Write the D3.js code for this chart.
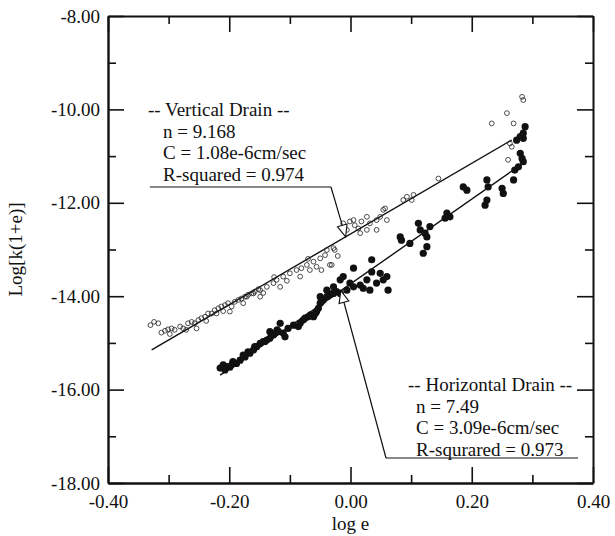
<!DOCTYPE html>
<html>
<head>
<meta charset="utf-8">
<script src="https://cdn.jsdelivr.net/npm/d3@7"></script>
<style>
  body { margin: 0; background: #fff; }
  text { font-family: "Liberation Serif", "Times New Roman", serif; fill: #111; }
</style>
</head>
<body>
<script>
// open circles - vertical drain (log e, log[k(1+e)])
var vertX = [-0.330,-0.324,-0.317,-0.312,-0.306,-0.301,-0.295,-0.290,-0.281,-0.276,-0.268,-0.262,-0.257,-0.251,-0.246,-0.240,-0.235,-0.229,-0.224,-0.218,-0.213,-0.207,-0.202,-0.196,-0.191,-0.185,-0.180,-0.174,-0.169,-0.163,-0.158,-0.152,-0.254,-0.221,-0.199,
  -0.171,-0.160,-0.149,-0.138,-0.127,-0.122,-0.111,-0.100,-0.089,-0.081,-0.072,-0.061,-0.050,-0.042,-0.034,-0.026,-0.048,-0.149,-0.116,-0.083,-0.056,-0.012,-0.001,0.007,0.018,0.027,-0.006,0.013,
  0.005,0.032,0.043,0.054,0.060,0.043,0.016,0.027,0.093,0.104,0.087,-0.039,-0.028,-0.031,
  0.101,0.057,0.049,0.145,0.283,0.285,0.258,0.233,0.269,0.266,0.263,0.260,
  -0.298,-0.271,-0.238,-0.210,-0.177,-0.144,-0.105,-0.067,-0.021,-0.126,-0.070];
var vertY = [-14.62,-14.55,-14.58,-14.78,-14.74,-14.71,-14.69,-14.72,-14.65,-14.69,-14.58,-14.55,-14.58,-14.51,-14.47,-14.44,-14.37,-14.37,-14.30,-14.26,-14.22,-14.19,-14.15,-14.22,-14.12,-14.08,-14.05,-14.01,-13.97,-13.94,-13.90,-13.85,-14.69,-14.37,-14.33,
  -14.01,-13.94,-13.87,-13.80,-13.72,-13.65,-13.58,-13.51,-13.44,-13.40,-13.33,-13.26,-13.19,-13.12,-13.33,-13.01,-13.44,-14.01,-13.80,-13.58,-13.37,-12.44,-12.40,-12.48,-12.40,-12.30,-12.58,-12.55,
  -12.37,-12.44,-12.37,-12.15,-12.37,-12.58,-12.65,-12.58,-11.87,-11.83,-11.94,-13.01,-12.97,-13.33,
  -11.94,-12.12,-12.30,-11.48,-9.73,-9.80,-10.08,-10.30,-10.30,-10.80,-10.73,-11.08,
  -14.81,-14.72,-14.53,-14.32,-14.15,-13.93,-13.67,-13.44,-13.14,-13.59,-13.20];

// filled dots - horizontal drain
var horzX = [-0.215,-0.210,-0.204,-0.196,-0.188,-0.182,-0.174,-0.169,-0.160,-0.155,-0.149,-0.141,-0.133,-0.133,-0.127,-0.119,-0.116,-0.111,-0.108,-0.103,-0.094,-0.086,-0.078,-0.070,-0.061,-0.056,-0.050,-0.045,-0.039,-0.034,-0.028,-0.023,
  -0.177,-0.194,-0.207,-0.199,-0.166,-0.158,-0.144,-0.138,-0.124,-0.121,-0.083,-0.075,-0.066,-0.058,-0.053,-0.048,-0.037,-0.031,
  -0.050,-0.039,-0.028,-0.017,-0.012,-0.001,0.005,0.016,0.021,0.027,0.035,0.049,0.054,0.060,0.062,0.005,0.035,0.082,0.084,0.098,0.112,0.115,0.123,0.120,0.126,0.043,0.032,-0.006,-0.017,
  0.159,0.164,0.186,0.192,0.225,0.227,0.225,0.222,0.250,0.252,0.269,0.271,0.277,0.285,0.280,0.283,0.274,0.280,0.285,0.285,0.288,0.131,0.156,0.126];
var horzY = [-15.54,-15.47,-15.51,-15.47,-15.44,-15.37,-15.30,-15.19,-15.15,-15.08,-15.01,-14.97,-14.90,-14.76,-14.83,-14.76,-14.58,-14.79,-14.87,-14.69,-14.62,-14.65,-14.51,-14.44,-14.44,-14.33,-14.15,-14.08,-14.01,-13.97,-13.94,-13.90,
  -15.26,-15.40,-15.58,-15.52,-15.22,-15.08,-14.97,-14.94,-14.79,-14.72,-14.58,-14.47,-14.40,-14.37,-14.26,-14.12,-14.00,-13.95,
  -14.01,-13.87,-13.80,-13.65,-13.58,-13.72,-13.80,-13.76,-13.83,-13.65,-13.48,-13.51,-13.65,-13.58,-13.87,-13.40,-13.22,-12.73,-12.80,-12.87,-12.44,-12.58,-12.65,-13.08,-12.94,-13.72,-13.87,-13.87,-13.94,
  -12.22,-12.30,-11.66,-11.73,-11.51,-11.66,-11.94,-12.05,-11.69,-11.80,-11.51,-11.30,-11.23,-11.12,-10.94,-11.05,-10.66,-10.58,-10.62,-10.51,-10.37,-12.51,-12.33,-12.73];

// fitted lines (end points)
var vertFitX = [-0.328, 0.266], vertFitY = [-15.15, -10.655];
var horzFitX = [-0.215, 0.288], horzFitY = [-15.69, -11.12];

var xMajor = [-0.4, -0.2, 0, 0.2, 0.4], xMinor = [-0.3, -0.1, 0.1, 0.3];
var yMajor = [-18, -16, -14, -12, -10, -8], yMinor = [-17, -15, -13, -11, -9];

var vertNote = ["-- Vertical Drain --", "n = 9.168", "C = 1.08e-6cm/sec", "R-squared = 0.974"];
var horzNote = ["-- Horizontal Drain --", "n = 7.49", "C = 3.09e-6cm/sec", "R-squrared = 0.973"];

var W = 615, H = 536;
var pL = 108, pR = 593, pT = 16, pB = 483;

var svg = d3.select("body").append("svg").attr("width", W).attr("height", H);

var x = d3.scaleLinear().domain([-0.4, 0.4]).range([pL, pR]);
var y = d3.scaleLinear().domain([-18, -8]).range([pB, pT]);

var fmt = function (d) { return d.toFixed(2); };
var fs = 19;

function styleAxis(g, sw) {
  g.selectAll("path.domain").attr("stroke", "#111").attr("stroke-width", sw);
  g.selectAll(".tick line").attr("stroke", "#111").attr("stroke-width", 1.6);
  g.selectAll("text").attr("font-size", fs).attr("font-family", "Liberation Serif").attr("fill", "#111");
}

// bottom
var gb = svg.append("g").attr("transform", "translate(0," + pB + ")")
  .call(d3.axisBottom(x).tickValues(xMajor).tickFormat(fmt).tickSizeInner(-16).tickSizeOuter(0).tickPadding(12));
styleAxis(gb, 2.4);
svg.append("g").attr("transform", "translate(0," + pB + ")")
  .call(d3.axisBottom(x).tickValues(xMinor).tickFormat("").tickSizeInner(-8).tickSizeOuter(0))
  .call(function (g) { g.select(".domain").remove(); styleAxis(g, 0); });

// top
var gt = svg.append("g").attr("transform", "translate(0," + pT + ")")
  .call(d3.axisTop(x).tickValues(xMajor).tickFormat("").tickSizeInner(-16).tickSizeOuter(0));
styleAxis(gt, 2);
svg.append("g").attr("transform", "translate(0," + pT + ")")
  .call(d3.axisTop(x).tickValues(xMinor).tickFormat("").tickSizeInner(-8).tickSizeOuter(0))
  .call(function (g) { g.select(".domain").remove(); styleAxis(g, 0); });

// left
var gl = svg.append("g").attr("transform", "translate(" + pL + ",0)")
  .call(d3.axisLeft(y).tickValues(yMajor).tickFormat(fmt).tickSizeInner(-16).tickSizeOuter(0).tickPadding(8));
styleAxis(gl, 2.4);
svg.append("g").attr("transform", "translate(" + pL + ",0)")
  .call(d3.axisLeft(y).tickValues(yMinor).tickFormat("").tickSizeInner(-8).tickSizeOuter(0))
  .call(function (g) { g.select(".domain").remove(); styleAxis(g, 0); });

// right
var gr = svg.append("g").attr("transform", "translate(" + pR + ",0)")
  .call(d3.axisRight(y).tickValues(yMajor).tickFormat("").tickSizeInner(-16).tickSizeOuter(0));
styleAxis(gr, 2);
svg.append("g").attr("transform", "translate(" + pR + ",0)")
  .call(d3.axisRight(y).tickValues(yMinor).tickFormat("").tickSizeInner(-8).tickSizeOuter(0))
  .call(function (g) { g.select(".domain").remove(); styleAxis(g, 0); });

// axis titles
svg.append("text").attr("x", (pL + pR) / 2).attr("y", 530)
  .attr("text-anchor", "middle").attr("font-size", fs).text("log e");
svg.append("text").attr("transform", "translate(22," + ((pT + pB) / 2) + ") rotate(-90)")
  .attr("text-anchor", "middle").attr("font-size", fs).text("Log[k(1+e)]");

// fitted lines
var line = d3.line().x(function (d) { return x(d[0]); }).y(function (d) { return y(d[1]); });
svg.append("path").datum(d3.zip(vertFitX, vertFitY)).attr("d", line)
  .attr("fill", "none").attr("stroke", "#111").attr("stroke-width", 1.4);
svg.append("path").datum(d3.zip(horzFitX, horzFitY)).attr("d", line)
  .attr("fill", "none").attr("stroke", "#111").attr("stroke-width", 1.4);

// points
svg.append("g").selectAll("circle").data(d3.zip(vertX, vertY)).enter().append("circle")
  .attr("cx", function (d) { return x(d[0]); })
  .attr("cy", function (d) { return y(d[1]); })
  .attr("r", 2.4).attr("fill", "none").attr("stroke", "#222").attr("stroke-width", 0.8);

svg.append("g").selectAll("circle").data(d3.zip(horzX, horzY)).enter().append("circle")
  .attr("cx", function (d) { return x(d[0]); })
  .attr("cy", function (d) { return y(d[1]); })
  .attr("r", 3.6).attr("fill", "#111");

// annotations
function onLine(fx, fy, xv) {
  var t = (xv - fx[0]) / (fx[1] - fx[0]);
  return [x(xv), y(fy[0] + t * (fy[1] - fy[0]))];
}

function arrowHead(tip, from) {
  var dx = from[0] - tip[0], dy = from[1] - tip[1];
  var len = Math.sqrt(dx * dx + dy * dy);
  var ux = dx / len, uy = dy / len;
  var b = [tip[0] + ux * 12, tip[1] + uy * 12];
  var p1 = [b[0] - uy * 5, b[1] + ux * 5], p2 = [b[0] + uy * 5, b[1] - ux * 5];
  return [tip, p1, p2];
}

function note(lines, tx, ty, indent, lx0, lx1, ly, corner, tip) {
  var g = svg.append("g");
  g.selectAll("text").data(lines).enter().append("text")
    .attr("x", function (d, i) { return i === 0 ? tx : tx + indent; })
    .attr("y", function (d, i) { return ty + i * 21.5; })
    .attr("font-size", fs).text(function (d) { return d; });
  g.append("path").attr("d", d3.line()([[lx0, ly], [lx1, ly]]))
    .attr("stroke", "#111").attr("stroke-width", 1.2).attr("fill", "none");
  var head = arrowHead(tip, corner);
  var base = [(head[1][0] + head[2][0]) / 2, (head[1][1] + head[2][1]) / 2];
  g.append("path").attr("d", d3.line()([corner, base]))
    .attr("stroke", "#111").attr("stroke-width", 1.2).attr("fill", "none");
  g.append("path").attr("d", d3.line()(head) + "Z")
    .attr("stroke", "#111").attr("stroke-width", 1.1).attr("fill", "#fff");
}

note(vertNote, 148, 116, 15, 150, 331, 187, [331, 187], onLine(vertFitX, vertFitY, -0.008));
note(horzNote, 408, 391, 8, 386, 578, 458, [386, 458], onLine(horzFitX, horzFitY, -0.016));
</script>
</body>
</html>
